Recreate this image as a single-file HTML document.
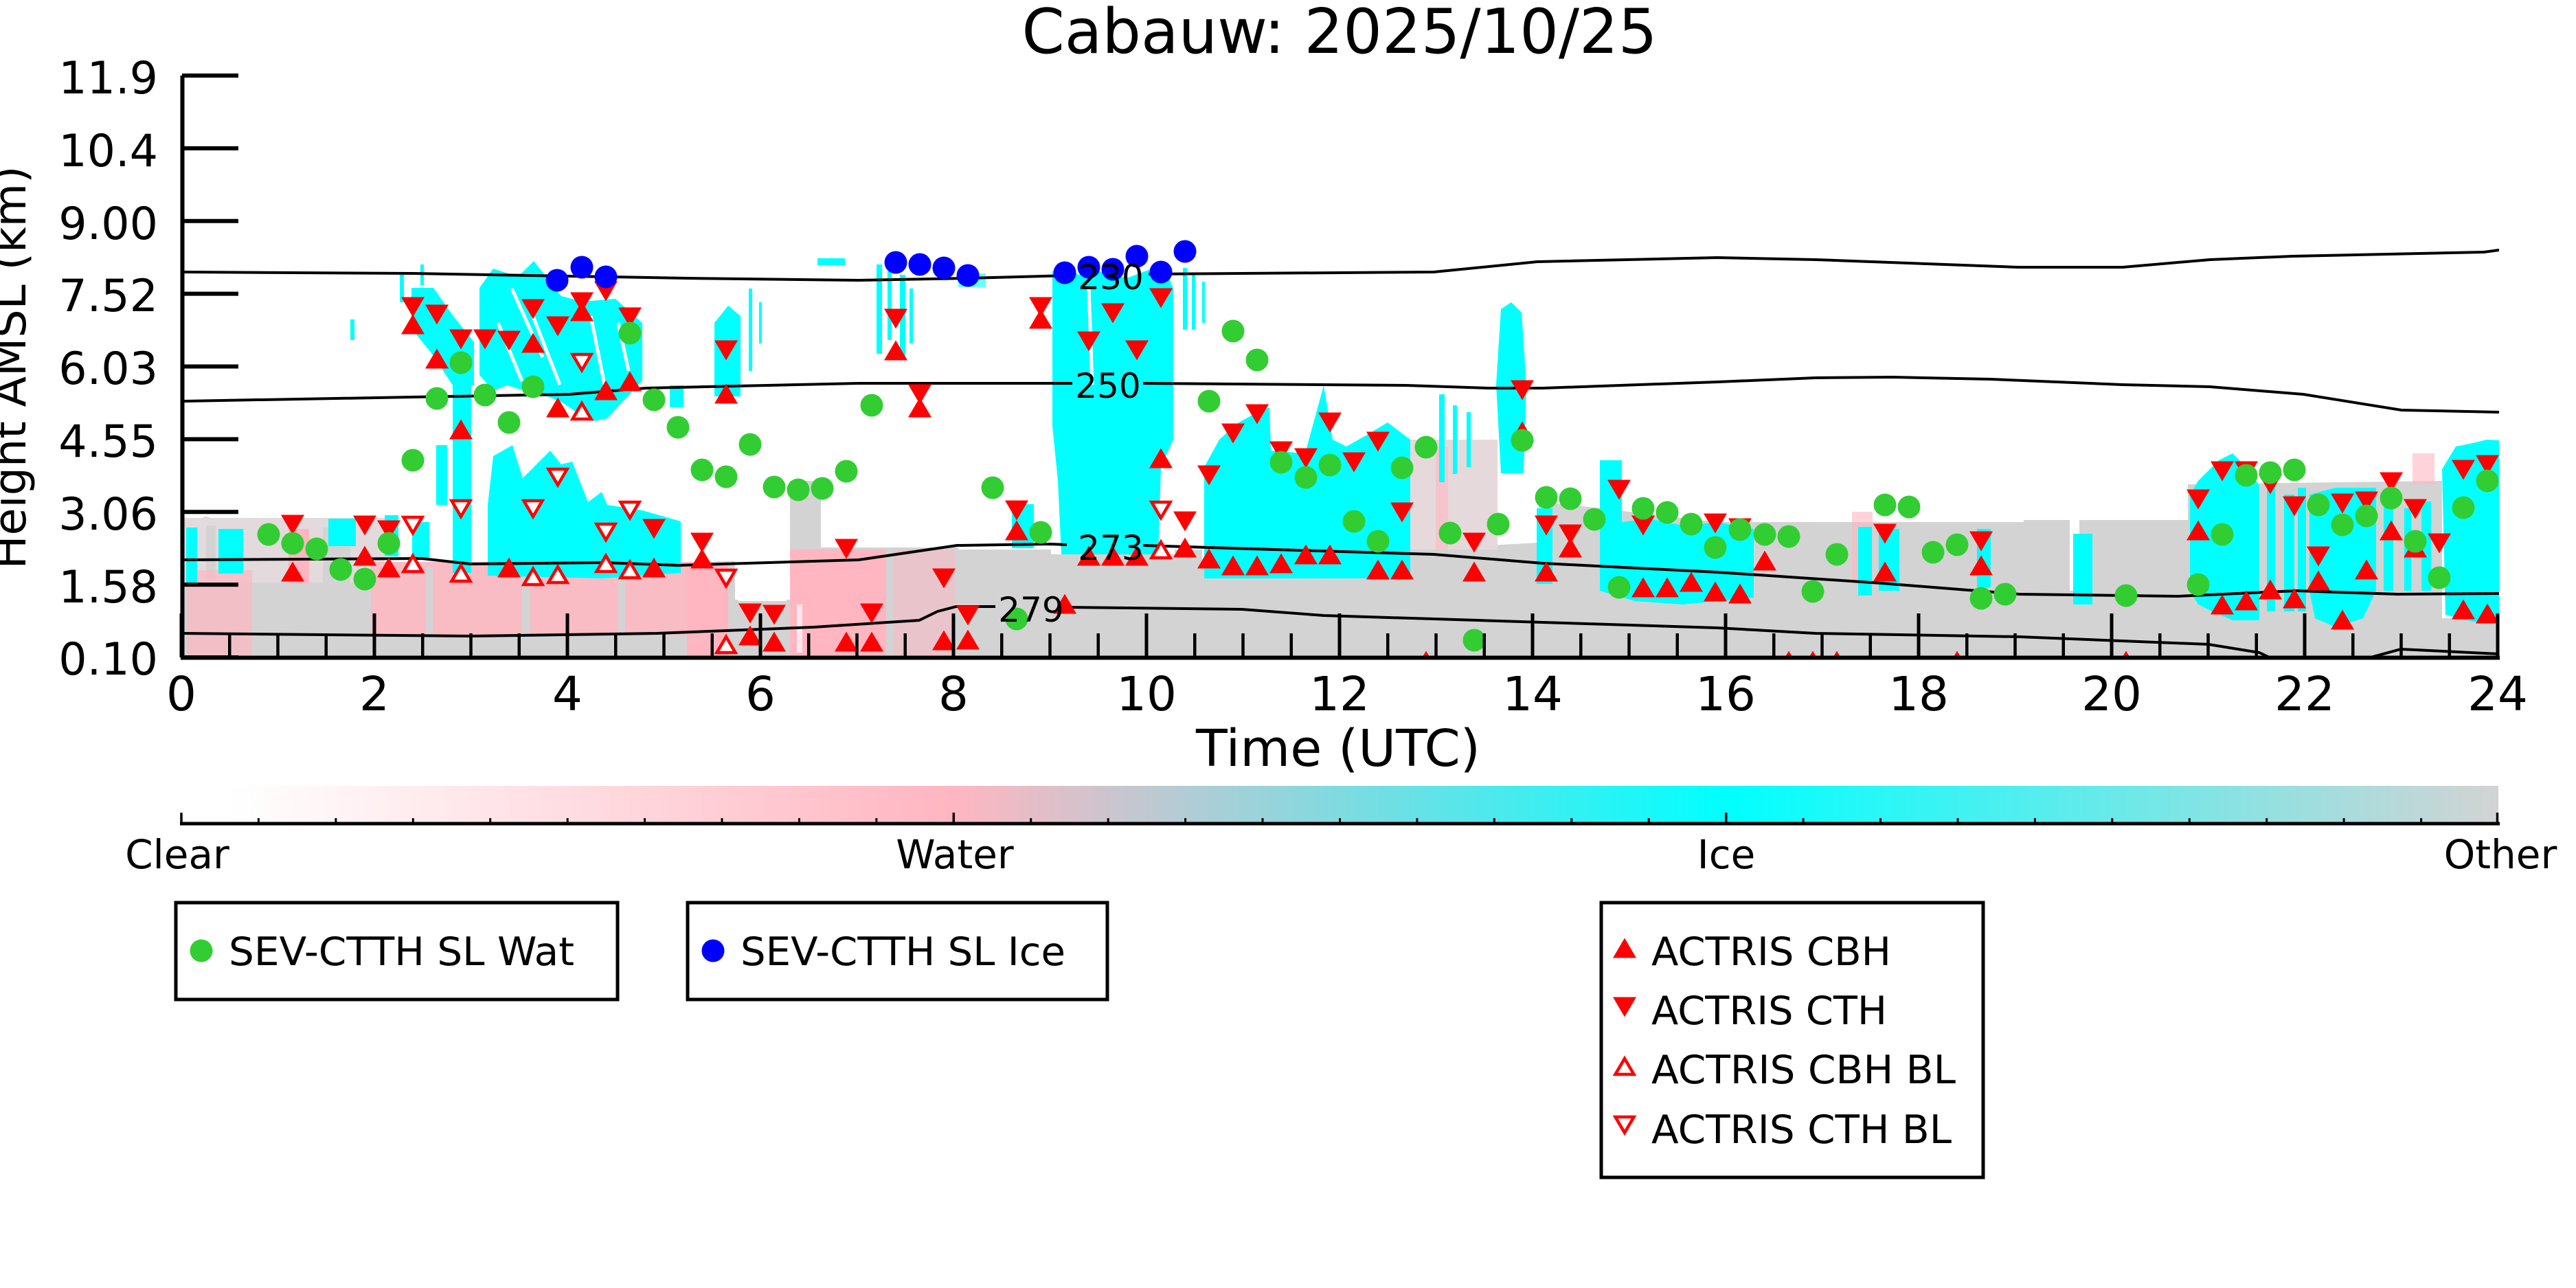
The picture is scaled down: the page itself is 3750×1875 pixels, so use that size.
<!DOCTYPE html>
<html><head><meta charset="utf-8"><style>html,body{margin:0;padding:0;background:#fff}svg{display:block}</style></head>
<body>
<svg xmlns="http://www.w3.org/2000/svg" xmlns:xlink="http://www.w3.org/1999/xlink" width="3750" height="1875" viewBox="0 0 3750 1875" font-family="'DejaVu Sans','Liberation Sans',sans-serif">
<defs>
<clipPath id="ax"><rect x="268" y="100" width="3370" height="855"/></clipPath>
<linearGradient id="cb" x1="0" x2="1" y1="0" y2="0">
<stop offset="0" stop-color="#ffffff"/>
<stop offset="0.02" stop-color="#ffffff"/>
<stop offset="0.3333" stop-color="#ffb6c1"/>
<stop offset="0.6667" stop-color="#00ffff"/>
<stop offset="1" stop-color="#d3d3d3"/>
</linearGradient>
<path id="up" d="M0,-14.5 L17,14.5 L-17,14.5 Z" fill="#ff0000"/>
<path id="dn" d="M0,14.5 L17,-14.5 L-17,-14.5 Z" fill="#ff0000"/>
<path id="uo" d="M0,-11 L13.5,12 L-13.5,12 Z" fill="#fff" stroke="#ff0000" stroke-width="4.5"/>
<path id="do" d="M0,11 L13.5,-12 L-13.5,-12 Z" fill="#fff" stroke="#ff0000" stroke-width="4.5"/>
<circle id="g" r="16.5" fill="#32cd32"/>
<circle id="b" r="16.5" fill="#0000ff"/>
</defs>

<!-- title -->
<text x="1950" y="77" font-size="90" text-anchor="middle" textLength="925" lengthAdjust="spacingAndGlyphs">Cabauw: 2025/10/25</text>

<g clip-path="url(#ax)">
<!-- low layer gray -->
<polygon fill="#d3d3d3" points="268,762 300,752 340,764 400,755 460,766 520,758 560,770 560,818 1040,818 1040,817 1070,817 1070,873 1150,873 1150,700 1195,700 1195,797 1395,797 1395,800 1530,800 1530,807 1710,807 1710,800 1750,800 1750,825 2053,825 2053,800 2240,790 2240,730 2330,740 2500,760 2946,760 2946,757 3013,757 3013,860 3027,860 3027,757 3185,757 3185,705 3555,700 3555,900 3638,900 3638,957 268,957"/>
<!-- mixed upper part hours 0-2 -->
<rect x="268" y="754" width="292" height="94" fill="#e2dadc"/>
<rect x="300" y="765" width="14" height="85" fill="#d3d3d3"/>
<rect x="420" y="770" width="30" height="80" fill="#ffb6c1"/>
<rect x="470" y="768" width="40" height="80" fill="#d3d3d3"/>
<!-- pink -->
<rect x="272" y="830" width="95" height="127" fill="#ffb6c1" opacity="0.7"/>
<rect x="540" y="818" width="500" height="106" fill="#ffb6c1" opacity="0.85"/>
<rect x="620" y="825" width="10" height="100" fill="#d3d3d3"/>
<rect x="760" y="825" width="12" height="100" fill="#d3d3d3"/>
<rect x="900" y="825" width="10" height="100" fill="#d3d3d3"/>
<rect x="1000" y="820" width="60" height="137" fill="#ffb6c1"/>
<rect x="1150" y="800" width="140" height="157" fill="#ffb6c1"/>
<rect x="1300" y="800" width="90" height="157" fill="#ffb6c1" opacity="0.5"/>
<rect x="1990" y="640" width="190" height="160" fill="#e6d9dc"/>
<rect x="2010" y="660" width="20" height="140" fill="#ffb6c1"/>
<rect x="2090" y="650" width="18" height="150" fill="#ffb6c1" opacity="0.6"/>
<rect x="2696" y="745" width="30" height="100" fill="#ffb6c1" opacity="0.6"/>
<rect x="3512" y="660" width="32" height="45" fill="#ffb6c1" opacity="0.6"/>
<!-- white gaps -->
<rect x="1075" y="820" width="70" height="55" fill="#fff"/>
<rect x="1160" y="880" width="8" height="70" fill="#fff" opacity="0.7"/>

<!-- cyan -->
<g fill="#00ffff">
<polygon points="599,419 631,419 659,459 690,498 690,561 659,561 631,518 599,478"/>
<polygon points="698,419 718,391 754,403 777,380 817,431 848,439 896,435 935,470 935,554 884,609 864,613 841,601 817,585 797,577 765,569 738,561 718,569 698,546"/>
<polygon points="710,735 718,664 746,648 761,696 801,656 817,676 833,672 856,731 876,716 884,735 935,743 991,759 991,834 935,838 876,842 710,838"/>
<rect x="659" y="538" width="27" height="296"/>
<rect x="635" y="648" width="16" height="87"/>
<rect x="582" y="400" width="6" height="40"/>
<rect x="612" y="385" width="5" height="30"/>
<rect x="560" y="750" width="20" height="60"/>
<rect x="600" y="760" width="25" height="55"/>
<rect x="271" y="768" width="16" height="80"/>
<rect x="318" y="770" width="36" height="65"/>
<rect x="478" y="755" width="40" height="40"/>
<rect x="510" y="465" width="6" height="30"/>
<polygon points="1040,470 1060,445 1078,460 1078,577 1040,577"/>
<rect x="975" y="561" width="20" height="32"/>
<rect x="1090" y="420" width="5" height="120"/>
<rect x="1105" y="440" width="4" height="60"/>
<rect x="1190" y="376" width="40" height="10"/>
<polygon points="1532,395 1545,385 1570,400 1600,395 1640,405 1680,390 1700,400 1708,420 1708,640 1690,680 1686,807 1545,807 1540,700 1532,620"/>
<rect x="1722" y="390" width="6" height="90"/>
<rect x="1735" y="400" width="5" height="80"/>
<rect x="1750" y="410" width="4" height="60"/>
<polygon points="1753,830 1753,680 1775,640 1800,617 1830,600 1848,593 1850,656 1900,660 1927,561 1940,640 1960,650 1990,633 2020,615 2053,640 2053,842 1753,842"/>
<rect x="2095" y="574" width="8" height="128"/>
<rect x="2115" y="590" width="6" height="100"/>
<rect x="2135" y="600" width="6" height="80"/>
<polygon points="2185,450 2200,440 2215,455 2222,560 2218,689 2185,689 2178,560"/>
<polygon points="2329,670 2361,670 2361,760 2400,755 2450,765 2500,760 2553,770 2553,870 2500,875 2450,880 2380,875 2329,860"/>
<rect x="2237" y="740" width="23" height="110"/>
<rect x="1276" y="385" width="8" height="130"/>
<rect x="1292" y="395" width="6" height="100"/>
<rect x="1310" y="400" width="8" height="120"/>
<rect x="1324" y="420" width="5" height="80"/>
<rect x="1473" y="734" width="32" height="64"/>
<rect x="1395" y="398" width="40" height="20" opacity="0.6"/>
<polygon points="3188,720 3200,700 3230,670 3250,660 3270,680 3289,707 3289,903 3250,903 3220,890 3200,880 3188,860"/>
<rect x="3300" y="700" width="12" height="190"/>
<rect x="3325" y="720" width="15" height="170"/>
<rect x="3345" y="710" width="12" height="180"/>
<polygon points="3362,720 3400,710 3459,710 3459,860 3440,900 3400,913 3370,900 3362,860"/>
<rect x="3470" y="720" width="14" height="140"/>
<rect x="3500" y="740" width="10" height="120"/>
<rect x="3525" y="730" width="14" height="130"/>
<polygon points="3555,683 3575,650 3600,645 3620,640 3638,641 3638,907 3600,905 3560,895"/>
<rect x="2705" y="767" width="20" height="100"/>
<rect x="2735" y="770" width="30" height="90"/>
<rect x="2878" y="770" width="20" height="85"/>
<rect x="3018" y="777" width="28" height="103"/>
</g>
<!-- white streaks in upper cyan -->
<g stroke="#fff" stroke-width="5" fill="none">
<path d="M745,420 L790,520"/>
<path d="M770,445 L815,560"/>
<path d="M725,470 L760,555"/>
<path d="M860,460 L880,560"/>
<path d="M900,470 L915,540"/>
<path d="M1585,420 L1590,560"/>
</g>

<!-- contours -->
<g fill="none" stroke="#000" stroke-width="4">
<polyline points="265,396 600,398 829,402 1000,405 1250,408 1409,405 1557,401"/>
<polyline points="1672,399 2087,396 2238,381 2500,375 2643,378 2938,389 3090,389 3217,378 3337,373 3616,367 3638,364"/>
<polyline points="265,584 829,574 940,565 1250,558 1561,558"/>
<polyline points="1664,558 2047,561 2167,565 2246,565 2500,556 2643,550 2755,549 2898,552 3090,560 3217,563 3353,574 3496,597 3638,600"/>
<polyline points="265,815 614,813 685,821 877,819 988,823 1250,815 1393,794 1529,792 1553,793"/>
<polyline points="1664,794 1888,801 2087,807 2246,820 2500,833 2739,849 2940,865 3170,868 3344,860 3399,862 3491,865 3638,864"/>
<polyline points="265,922 685,926 956,922 1184,913 1338,903 1365,890 1392,883 1449,883"/>
<polyline points="1553,884 1808,887 1927,896 2246,906 2500,914 2643,922 2940,927 3215,938 3289,950 3310,960"/>
<polyline points="3440,960 3495,945 3638,952"/>
</g>

<!-- red filled down (CTH) -->
<g>
<use xlink:href="#dn" x="601" y="447"/><use xlink:href="#dn" x="636" y="458"/><use xlink:href="#dn" x="671" y="494"/><use xlink:href="#dn" x="706" y="494"/><use xlink:href="#dn" x="741" y="496"/><use xlink:href="#dn" x="776" y="450"/><use xlink:href="#dn" x="812" y="475"/><use xlink:href="#dn" x="847" y="440"/><use xlink:href="#dn" x="882" y="424"/><use xlink:href="#dn" x="917" y="462"/><use xlink:href="#dn" x="1057" y="510"/><use xlink:href="#dn" x="426" y="764"/><use xlink:href="#dn" x="531" y="765"/><use xlink:href="#dn" x="566" y="772"/><use xlink:href="#dn" x="952" y="770"/><use xlink:href="#dn" x="1022" y="790"/><use xlink:href="#dn" x="1092" y="893"/><use xlink:href="#dn" x="1127" y="895"/><use xlink:href="#dn" x="1232" y="799"/>
<use xlink:href="#dn" x="1304" y="464"/><use xlink:href="#dn" x="1339" y="574"/><use xlink:href="#dn" x="1515" y="447"/><use xlink:href="#dn" x="1585" y="497"/><use xlink:href="#dn" x="1620" y="456"/><use xlink:href="#dn" x="1655" y="510"/><use xlink:href="#dn" x="1690" y="434"/><use xlink:href="#dn" x="1725" y="759"/><use xlink:href="#dn" x="1760" y="692"/><use xlink:href="#dn" x="1795" y="631"/><use xlink:href="#dn" x="1830" y="603"/><use xlink:href="#dn" x="1865" y="657"/><use xlink:href="#dn" x="1901" y="667"/><use xlink:href="#dn" x="1936" y="615"/><use xlink:href="#dn" x="1971" y="673"/><use xlink:href="#dn" x="2006" y="643"/><use xlink:href="#dn" x="2041" y="746"/><use xlink:href="#dn" x="2146" y="790"/><use xlink:href="#dn" x="2216" y="568"/><use xlink:href="#dn" x="2251" y="765"/><use xlink:href="#dn" x="2286" y="778"/><use xlink:href="#dn" x="2357" y="713"/><use xlink:href="#dn" x="2392" y="765"/><use xlink:href="#dn" x="2497" y="762"/><use xlink:href="#dn" x="1480" y="743"/><use xlink:href="#dn" x="1374" y="842"/><use xlink:href="#dn" x="1409" y="896"/><use xlink:href="#dn" x="1269" y="893"/>
<use xlink:href="#dn" x="2533" y="769"/><use xlink:href="#dn" x="2744" y="777"/><use xlink:href="#dn" x="2884" y="788"/><use xlink:href="#dn" x="3200" y="727"/><use xlink:href="#dn" x="3235" y="686"/><use xlink:href="#dn" x="3270" y="686"/><use xlink:href="#dn" x="3305" y="705"/><use xlink:href="#dn" x="3340" y="737"/><use xlink:href="#dn" x="3375" y="810"/><use xlink:href="#dn" x="3410" y="733"/><use xlink:href="#dn" x="3445" y="730"/><use xlink:href="#dn" x="3481" y="702"/><use xlink:href="#dn" x="3516" y="741"/><use xlink:href="#dn" x="3551" y="791"/><use xlink:href="#dn" x="3586" y="684"/><use xlink:href="#dn" x="3621" y="677"/>
</g>
<!-- red filled up (CBH) -->
<g>
<use xlink:href="#up" x="601" y="472"/><use xlink:href="#up" x="636" y="522"/><use xlink:href="#up" x="671" y="625"/><use xlink:href="#up" x="776" y="499"/><use xlink:href="#up" x="812" y="593"/><use xlink:href="#up" x="847" y="453"/><use xlink:href="#up" x="882" y="568"/><use xlink:href="#up" x="917" y="555"/><use xlink:href="#up" x="1057" y="573"/><use xlink:href="#up" x="426" y="832"/><use xlink:href="#up" x="531" y="809"/><use xlink:href="#up" x="566" y="826"/><use xlink:href="#up" x="741" y="826"/><use xlink:href="#up" x="952" y="826"/><use xlink:href="#up" x="1022" y="813"/><use xlink:href="#up" x="1092" y="925"/><use xlink:href="#up" x="1127" y="934"/><use xlink:href="#up" x="1232" y="934"/>
<use xlink:href="#up" x="1304" y="510"/><use xlink:href="#up" x="1339" y="593"/><use xlink:href="#up" x="1515" y="464"/><use xlink:href="#up" x="1690" y="667"/><use xlink:href="#up" x="1725" y="797"/><use xlink:href="#up" x="1760" y="813"/><use xlink:href="#up" x="1795" y="823"/><use xlink:href="#up" x="1830" y="823"/><use xlink:href="#up" x="1865" y="820"/><use xlink:href="#up" x="1901" y="807"/><use xlink:href="#up" x="1936" y="807"/><use xlink:href="#up" x="2006" y="829"/><use xlink:href="#up" x="2041" y="829"/><use xlink:href="#up" x="2146" y="832"/><use xlink:href="#up" x="2216" y="628"/><use xlink:href="#up" x="2251" y="832"/><use xlink:href="#up" x="2286" y="797"/><use xlink:href="#up" x="2392" y="855"/><use xlink:href="#up" x="2427" y="855"/><use xlink:href="#up" x="2462" y="847"/><use xlink:href="#up" x="2497" y="861"/><use xlink:href="#up" x="1480" y="772"/><use xlink:href="#up" x="1374" y="932"/><use xlink:href="#up" x="1409" y="931"/><use xlink:href="#up" x="1269" y="934"/><use xlink:href="#up" x="1550" y="879"/><use xlink:href="#up" x="1585" y="809"/><use xlink:href="#up" x="1620" y="809"/><use xlink:href="#up" x="1655" y="809"/>
<use xlink:href="#up" x="2533" y="864"/><use xlink:href="#up" x="2569" y="816"/><use xlink:href="#up" x="2744" y="832"/><use xlink:href="#up" x="2884" y="823"/><use xlink:href="#up" x="3200" y="772"/><use xlink:href="#up" x="3235" y="880"/><use xlink:href="#up" x="3270" y="874"/><use xlink:href="#up" x="3305" y="858"/><use xlink:href="#up" x="3340" y="871"/><use xlink:href="#up" x="3375" y="845"/><use xlink:href="#up" x="3410" y="902"/><use xlink:href="#up" x="3445" y="829"/><use xlink:href="#up" x="3481" y="772"/><use xlink:href="#up" x="3516" y="797"/><use xlink:href="#up" x="3586" y="887"/><use xlink:href="#up" x="3621" y="893"/>
<use xlink:href="#up" x="2076" y="962"/><use xlink:href="#up" x="2604" y="962"/><use xlink:href="#up" x="2639" y="962"/><use xlink:href="#up" x="2674" y="962"/><use xlink:href="#up" x="2849" y="962"/><use xlink:href="#up" x="3095" y="962"/>
</g>
<!-- open triangles -->
<g>
<use xlink:href="#do" x="601" y="765"/><use xlink:href="#do" x="671" y="741"/><use xlink:href="#do" x="776" y="741"/><use xlink:href="#do" x="812" y="695"/><use xlink:href="#do" x="847" y="528"/><use xlink:href="#do" x="882" y="775"/><use xlink:href="#do" x="917" y="743"/><use xlink:href="#do" x="1057" y="842"/><use xlink:href="#do" x="1690" y="743"/>
<use xlink:href="#uo" x="601" y="820"/><use xlink:href="#uo" x="671" y="834"/><use xlink:href="#uo" x="776" y="839"/><use xlink:href="#uo" x="812" y="836"/><use xlink:href="#uo" x="847" y="598"/><use xlink:href="#uo" x="882" y="820"/><use xlink:href="#uo" x="917" y="829"/><use xlink:href="#uo" x="1057" y="938"/><use xlink:href="#uo" x="1690" y="800"/>
</g>
<!-- green -->
<g>
<use xlink:href="#g" x="391" y="778"/><use xlink:href="#g" x="426" y="791"/><use xlink:href="#g" x="461" y="799"/><use xlink:href="#g" x="496" y="829"/><use xlink:href="#g" x="531" y="843"/><use xlink:href="#g" x="566" y="791"/><use xlink:href="#g" x="601" y="670"/><use xlink:href="#g" x="636" y="580"/><use xlink:href="#g" x="671" y="528"/><use xlink:href="#g" x="706" y="575"/><use xlink:href="#g" x="741" y="615"/><use xlink:href="#g" x="776" y="563"/><use xlink:href="#g" x="917" y="485"/><use xlink:href="#g" x="952" y="582"/><use xlink:href="#g" x="987" y="622"/><use xlink:href="#g" x="1022" y="684"/><use xlink:href="#g" x="1057" y="694"/><use xlink:href="#g" x="1092" y="647"/><use xlink:href="#g" x="1127" y="709"/><use xlink:href="#g" x="1162" y="713"/><use xlink:href="#g" x="1197" y="711"/><use xlink:href="#g" x="1232" y="686"/>
<use xlink:href="#g" x="1269" y="590"/><use xlink:href="#g" x="1445" y="710"/><use xlink:href="#g" x="1515" y="775"/><use xlink:href="#g" x="1480" y="901"/><use xlink:href="#g" x="1760" y="584"/><use xlink:href="#g" x="1795" y="482"/><use xlink:href="#g" x="1830" y="524"/><use xlink:href="#g" x="1865" y="673"/><use xlink:href="#g" x="1901" y="695"/><use xlink:href="#g" x="1936" y="677"/><use xlink:href="#g" x="1971" y="759"/><use xlink:href="#g" x="2006" y="788"/><use xlink:href="#g" x="2041" y="681"/><use xlink:href="#g" x="2076" y="651"/><use xlink:href="#g" x="2111" y="776"/><use xlink:href="#g" x="2146" y="932"/><use xlink:href="#g" x="2181" y="763"/><use xlink:href="#g" x="2216" y="641"/><use xlink:href="#g" x="2251" y="724"/><use xlink:href="#g" x="2286" y="726"/><use xlink:href="#g" x="2321" y="756"/><use xlink:href="#g" x="2357" y="855"/><use xlink:href="#g" x="2392" y="740"/><use xlink:href="#g" x="2427" y="746"/><use xlink:href="#g" x="2462" y="763"/><use xlink:href="#g" x="2497" y="797"/>
<use xlink:href="#g" x="2533" y="771"/><use xlink:href="#g" x="2569" y="778"/><use xlink:href="#g" x="2604" y="781"/><use xlink:href="#g" x="2639" y="861"/><use xlink:href="#g" x="2674" y="807"/><use xlink:href="#g" x="2744" y="735"/><use xlink:href="#g" x="2779" y="738"/><use xlink:href="#g" x="2814" y="804"/><use xlink:href="#g" x="2849" y="793"/><use xlink:href="#g" x="2884" y="871"/><use xlink:href="#g" x="2919" y="865"/><use xlink:href="#g" x="3095" y="867"/><use xlink:href="#g" x="3200" y="851"/><use xlink:href="#g" x="3235" y="778"/><use xlink:href="#g" x="3270" y="692"/><use xlink:href="#g" x="3305" y="688"/><use xlink:href="#g" x="3340" y="684"/><use xlink:href="#g" x="3375" y="735"/><use xlink:href="#g" x="3410" y="764"/><use xlink:href="#g" x="3445" y="751"/><use xlink:href="#g" x="3481" y="725"/><use xlink:href="#g" x="3516" y="788"/><use xlink:href="#g" x="3551" y="841"/><use xlink:href="#g" x="3586" y="739"/><use xlink:href="#g" x="3621" y="700"/>
</g>
<!-- blue -->
<g>
<use xlink:href="#b" x="811" y="408"/><use xlink:href="#b" x="847" y="389"/><use xlink:href="#b" x="882" y="403"/><use xlink:href="#b" x="1304" y="382"/><use xlink:href="#b" x="1339" y="385"/><use xlink:href="#b" x="1374" y="390"/><use xlink:href="#b" x="1409" y="401"/><use xlink:href="#b" x="1550" y="397"/><use xlink:href="#b" x="1585" y="389"/><use xlink:href="#b" x="1620" y="392"/><use xlink:href="#b" x="1655" y="373"/><use xlink:href="#b" x="1690" y="396"/><use xlink:href="#b" x="1725" y="366"/>
</g>
<!-- contour labels -->
<g font-size="50" text-anchor="middle">
<text x="1617" y="421">230</text>
<text x="1613" y="579">250</text>
<text x="1617" y="815">273</text>
<text x="1501" y="905">279</text>
</g>
</g>

<!-- axes -->
<g stroke="#000" fill="none">
<path d="M265.5,110 V957" stroke-width="6"/>
<path d="M263,957.5 H3639" stroke-width="6"/>
<path stroke-width="6" d="M265,110H347 M265,215.9H347 M265,321.75H347 M265,427.6H347 M265,533.5H347 M265,639.4H347 M265,745.25H347 M265,851.1H347 M265,957H347"/>
<path stroke-width="5" d="M264,957V893 M545,957V893 M826,957V893 M1107,957V893 M1388,957V893 M1669,957V893 M1950,957V893 M2231,957V893 M2512,957V893 M2793,957V893 M3074,957V893 M3355,957V893 M3636,957V893"/>
<path stroke-width="4.5" d="M334.25,957V922 M404.5,957V922 M474.75,957V922 M615.25,957V922 M685.5,957V922 M755.75,957V922 M896.25,957V922 M966.5,957V922 M1036.75,957V922 M1177.25,957V922 M1247.5,957V922 M1317.75,957V922 M1458.25,957V922 M1528.5,957V922 M1598.75,957V922 M1739.25,957V922 M1809.5,957V922 M1879.75,957V922 M2020.25,957V922 M2090.5,957V922 M2160.75,957V922 M2301.25,957V922 M2371.5,957V922 M2441.75,957V922 M2582.25,957V922 M2652.5,957V922 M2722.75,957V922 M2863.25,957V922 M2933.5,957V922 M3003.75,957V922 M3144.25,957V922 M3214.5,957V922 M3284.75,957V922 M3425.25,957V922 M3495.5,957V922 M3565.75,957V922"/>
</g>

<!-- y tick labels -->
<g font-size="65" text-anchor="end">
<text x="230" y="136">11.9</text>
<text x="230" y="242">10.4</text>
<text x="230" y="348">9.00</text>
<text x="230" y="453">7.52</text>
<text x="230" y="559">6.03</text>
<text x="230" y="665">4.55</text>
<text x="230" y="771">3.06</text>
<text x="230" y="877">1.58</text>
<text x="230" y="982">0.10</text>
</g>
<!-- x tick labels -->
<g font-size="69" text-anchor="middle">
<text x="264" y="1034">0</text>
<text x="545" y="1034">2</text>
<text x="826" y="1034">4</text>
<text x="1107" y="1034">6</text>
<text x="1388" y="1034">8</text>
<text x="1669" y="1034">10</text>
<text x="1950" y="1034">12</text>
<text x="2231" y="1034">14</text>
<text x="2512" y="1034">16</text>
<text x="2793" y="1034">18</text>
<text x="3074" y="1034">20</text>
<text x="3355" y="1034">22</text>
<text x="3636" y="1034">24</text>
</g>
<text x="1741" y="1115" font-size="74" textLength="414" lengthAdjust="spacingAndGlyphs">Time (UTC)</text>
<text transform="translate(37,535) rotate(-90)" font-size="65" text-anchor="middle" textLength="587" lengthAdjust="spacingAndGlyphs">Height AMSL (km)</text>

<!-- colorbar -->
<rect x="264" y="1144" width="3373" height="55" fill="url(#cb)"/>
<path d="M262,1199H3639" stroke="#000" stroke-width="5"/>
<path stroke="#000" stroke-width="3.5" d="M264,1199V1183 M1388.3,1199V1183 M2512.7,1199V1183 M3635.5,1199V1183"/>
<path stroke="#000" stroke-width="3" d="M376.4,1199V1191 M488.9,1199V1191 M601.3,1199V1191 M713.7,1199V1191 M826.2,1199V1191 M938.6,1199V1191 M1051,1199V1191 M1163.5,1199V1191 M1275.9,1199V1191 M1500.7,1199V1191 M1613.2,1199V1191 M1725.6,1199V1191 M1838,1199V1191 M1950.5,1199V1191 M2062.9,1199V1191 M2175.3,1199V1191 M2287.8,1199V1191 M2400.2,1199V1191 M2625.1,1199V1191 M2737.5,1199V1191 M2850,1199V1191 M2962.4,1199V1191 M3074.8,1199V1191 M3187.3,1199V1191 M3299.7,1199V1191 M3412.1,1199V1191 M3524.6,1199V1191"/>
<g font-size="58" text-anchor="middle">
<text x="258" y="1264">Clear</text>
<text x="1390" y="1264">Water</text>
<text x="2513" y="1264">Ice</text>
<text x="3640" y="1264">Other</text>
</g>

<!-- legends -->
<g fill="none" stroke="#000" stroke-width="5">
<rect x="256" y="1314" width="643" height="141"/>
<rect x="1001" y="1314" width="611" height="141"/>
<rect x="2331" y="1314" width="556" height="400"/>
</g>
<circle cx="293" cy="1384" r="16.5" fill="#32cd32"/>
<text x="333" y="1405" font-size="57" textLength="503" lengthAdjust="spacingAndGlyphs">SEV-CTTH SL Wat</text>
<circle cx="1038" cy="1384" r="16.5" fill="#0000ff"/>
<text x="1078" y="1405" font-size="57" textLength="473" lengthAdjust="spacingAndGlyphs">SEV-CTTH SL Ice</text>
<use xlink:href="#up" x="2365" y="1380"/>
<use xlink:href="#dn" x="2365" y="1466"/>
<use xlink:href="#uo" x="2365" y="1552"/>
<use xlink:href="#do" x="2365" y="1638"/>
<g font-size="57">
<text x="2404" y="1405" textLength="349" lengthAdjust="spacingAndGlyphs">ACTRIS CBH</text>
<text x="2404" y="1491" textLength="343" lengthAdjust="spacingAndGlyphs">ACTRIS CTH</text>
<text x="2404" y="1577" textLength="443" lengthAdjust="spacingAndGlyphs">ACTRIS CBH BL</text>
<text x="2404" y="1664" textLength="437" lengthAdjust="spacingAndGlyphs">ACTRIS CTH BL</text>
</g>
</svg>
</body></html>
